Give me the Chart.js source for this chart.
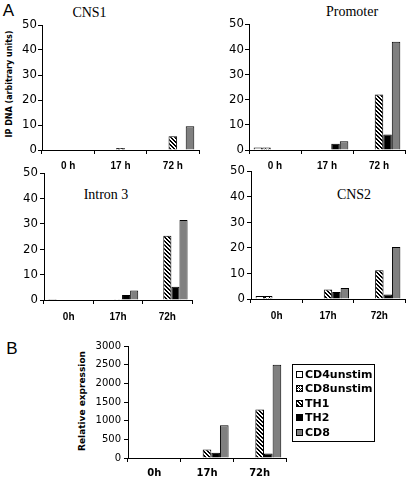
<!DOCTYPE html>
<html>
<head>
<meta charset="utf-8">
<script src="https://cdn.jsdelivr.net/npm/chart.js@4.4.1/dist/chart.umd.min.js"></script>
<style>
  body { margin: 0; background: #fff; width: 407px; height: 479px; position: relative; overflow: hidden; }
  canvas.plot { position: absolute; }
  .c { position: absolute; white-space: nowrap; line-height: 1; transform: translate(-50%, -50%); color: #000; }
  .letter { font: 17px "Liberation Sans", Arial, sans-serif; }
  .ttl { font: 14px "Liberation Serif", "Times New Roman", serif; }
  .rot { transform: translate(-50%, -50%) rotate(-90deg); font-family: "DejaVu Sans", Verdana, sans-serif; font-weight: bold; }
  #legend { position: absolute; left: 292px; top: 364px; width: 81px; height: 74px; border: 1px solid #000; padding-top: 2px; box-sizing: content-box; }
  #legend .row { height: 14.5px; display: flex; align-items: center; padding-left: 3px; font: bold 11px "DejaVu Sans", Verdana, sans-serif; }
  #legend canvas { margin-right: 2px; }
</style>
</head>
<body>

<div class="c letter" style="left:8.5px; top:11px;">A</div>
<div class="c letter" style="left:12px; top:349px;">B</div>

<div class="c ttl" style="left:89.5px; top:13px;">CNS1</div>
<div class="c ttl" style="left:352px; top:12px;">Promoter</div>
<div class="c ttl" style="left:106px; top:195px;">Intron 3</div>
<div class="c ttl" style="left:354px; top:195px;">CNS2</div>

<div class="c rot" style="left:10px; top:84px; font-size:8px;">IP DNA (arbitrary units)</div>
<div class="c rot" style="left:82px; top:401px; font-size:9px;">Relative expression</div>

<canvas class="plot" id="cns1"></canvas>
<canvas class="plot" id="promoter"></canvas>
<canvas class="plot" id="intron3"></canvas>
<canvas class="plot" id="cns2"></canvas>
<canvas class="plot" id="expr"></canvas>

<div id="legend"></div>

<script>
// series, categories and ticks
const seriesNames = ["CD4unstim", "CD8unstim", "TH1", "TH2", "CD8"];
const hoursTop = ["0 h", "17 h", "72 h"];
const hours = ["0h", "17h", "72h"];
const ipTicks = [0, 10, 20, 30, 40, 50];
const exprTicks = [0, 500, 1000, 1500, 2000, 2500, 3000];

// values per series (same order as seriesNames), one entry per time point
const cns1 = [[0, 0, 0], [0, 0, 0], [0, 0.8, 5.5], [0, 0, 0], [0, 0, 9.5]];
const promoter = [[1.0, 0, 0], [1.0, 0, 0], [0, 0, 22], [0, 2.5, 6.2], [0, 3.5, 43]];
const intron3 = [[0.4, 0, 0], [0, 0, 0], [0, 0.3, 25.3], [0, 2, 5.2], [0, 3.7, 31.5]];
const cns2 = [[1.2, 0, 0], [1.2, 0, 0], [0, 3.7, 11.2], [0, 2.7, 1.8], [0, 4.3, 20.3]];
const expr = [[0, 0, 0], [0, 0, 0], [0, 230, 1300], [0, 140, 120], [0, 880, 2500]];

function makePattern(kind) {
  const c = document.createElement("canvas");
  c.width = c.height = 4;
  const g = c.getContext("2d");
  g.fillStyle = "#fff";
  g.fillRect(0, 0, 4, 4);
  g.fillStyle = "#000";
  for (let y = 0; y < 4; y++) {
    for (let x = 0; x < 4; x++) {
      const d = ((x - y) % 4 + 4) % 4;
      if (kind === "diag" && (d === 0 || d === 1)) g.fillRect(x, y, 1, 1);
      if (kind === "cross" && (d === 0 || (x + y) % 4 === 0)) g.fillRect(x, y, 1, 1);
    }
  }
  return g.createPattern(c, "repeat");
}

const fills = ["#ffffff", makePattern("cross"), makePattern("diag"), "#000000", "#808080"];

const narrow = "'Liberation Sans Narrow', 'DejaVu Sans Condensed', 'Liberation Sans', sans-serif";

function panel(id, area, labels, values, ticks, o) {
  const PT = 10, PR = 6;
  const cv = document.getElementById(id);
  cv.width = area.r - area.l + o.yW + PR;
  cv.height = area.b - area.t + PT + o.xH;
  cv.style.left = (area.l - o.yW) + "px";
  cv.style.top = (area.t - PT) + "px";

  return new Chart(cv, {
    type: "bar",
    data: {
      labels: labels,
      datasets: seriesNames.map((name, i) => ({
        label: name,
        data: values[i],
        backgroundColor: fills[i],
        borderColor: "#000",
        borderWidth: 1,
        categoryPercentage: 0.82,
        barPercentage: 1
      }))
    },
    options: {
      responsive: false,
      animation: false,
      devicePixelRatio: 1,
      layout: { padding: { top: PT, right: PR, left: 0, bottom: 0 } },
      plugins: { legend: { display: false }, tooltip: { enabled: false } },
      scales: {
        x: {
          grid: { drawOnChartArea: false, color: "#000", tickLength: 4, offset: true },
          border: { color: "#000" },
          ticks: { color: "#000", font: o.xFont, padding: o.xPad, maxRotation: 0 },
          afterFit: s => { s.height = o.xH; }
        },
        y: {
          min: ticks[0],
          max: ticks[ticks.length - 1],
          grid: { drawOnChartArea: false, color: "#000", tickLength: 4 },
          border: { color: "#000" },
          ticks: {
            stepSize: ticks[1] - ticks[0],
            color: "#000",
            font: o.yFont,
            padding: o.yPad,
            callback: v => String(v)
          },
          afterFit: s => { s.width = o.yW; }
        }
      }
    }
  });
}

const topOpts = {
  yW: 30, xH: 30, xPad: 6, yPad: 1,
  xFont: { family: "'Liberation Sans', Arial, sans-serif", size: 10, weight: "bold" },
  yFont: { family: narrow, size: 13 }
};
const midOpts = Object.assign({}, topOpts, { xPad: 7, yPad: 2 });

panel("cns1", { l: 42, t: 25, r: 199, b: 150 }, hoursTop, cns1, ipTicks, topOpts);
panel("promoter", { l: 249, t: 24, r: 405, b: 150 }, hoursTop, promoter, ipTicks, topOpts);
panel("intron3", { l: 44, t: 173, r: 192, b: 300 }, hours, intron3, ipTicks, midOpts);
panel("cns2", { l: 251, t: 171, r: 405, b: 299 }, hours, cns2, ipTicks, midOpts);
panel("expr", { l: 128, t: 346, r: 286, b: 458 }, hours, expr, exprTicks, {
  yW: 40, xH: 21, xPad: 5, yPad: 3,
  xFont: { family: "'DejaVu Sans', Verdana, sans-serif", size: 10, weight: "bold" },
  yFont: { family: "'DejaVu Sans', Verdana, sans-serif", size: 10 }
});

// boxed legend for panel B
const legend = document.getElementById("legend");
seriesNames.forEach((name, i) => {
  const row = document.createElement("div");
  row.className = "row";
  const sw = document.createElement("canvas");
  sw.width = sw.height = 7;
  const g = sw.getContext("2d");
  g.fillStyle = fills[i];
  g.fillRect(0, 0, 7, 7);
  g.strokeStyle = "#000";
  g.lineWidth = 1;
  g.strokeRect(0.5, 0.5, 6, 6);
  row.appendChild(sw);
  const tx = document.createElement("span");
  tx.textContent = name;
  row.appendChild(tx);
  legend.appendChild(row);
});
</script>
</body>
</html>
